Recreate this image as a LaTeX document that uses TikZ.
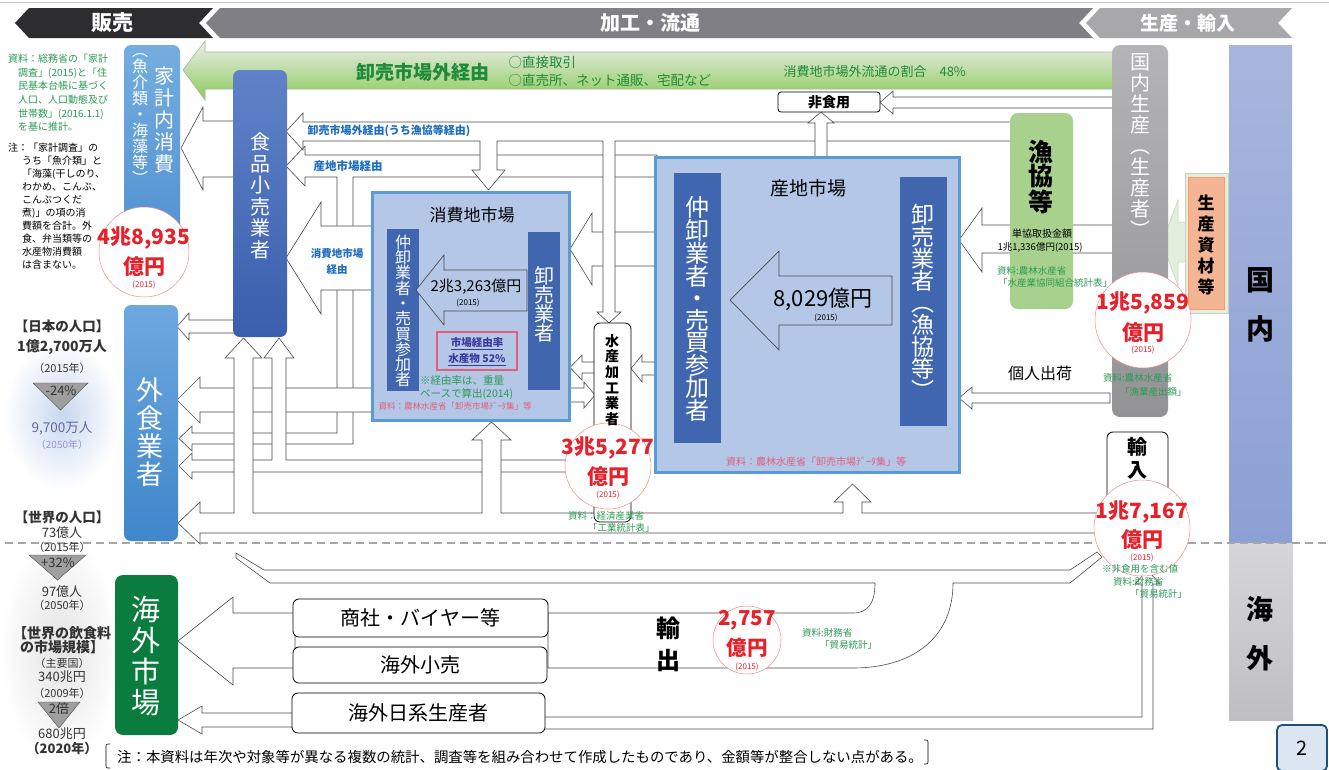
\documentclass[tikz,border=0pt]{standalone}
\usepackage{fontspec}
\setmainfont{Noto Sans CJK JP}
\usetikzlibrary{shapes.geometric}
\definecolor{bnDark}{HTML}{2D2D30}
\definecolor{bnMid}{HTML}{808084}
\definecolor{bnLight}{HTML}{A8A8AA}
\definecolor{agray}{HTML}{4A4A4A}
\definecolor{kakeiA}{HTML}{74AEE0}
\definecolor{kakeiB}{HTML}{4F8FD0}
\definecolor{shokuA}{HTML}{5F82C8}
\definecolor{shokuB}{HTML}{3B5EAD}
\definecolor{gaiA}{HTML}{6EA8E0}
\definecolor{gaiB}{HTML}{3F86CA}
\definecolor{kaigai}{HTML}{0A7D3E}
\definecolor{kokunaiA}{HTML}{B4B4B6}
\definecolor{kokunaiB}{HTML}{939395}
\definecolor{kokuA}{HTML}{A8B6DE}
\definecolor{kokuB}{HTML}{8CA0D4}
\definecolor{kaiA}{HTML}{D6D6D8}
\definecolor{kaiB}{HTML}{BFBFC1}
\definecolor{mkt}{HTML}{B4C7E7}
\definecolor{mktline}{HTML}{5B9BD5}
\definecolor{mbar}{HTML}{4066B0}
\definecolor{gyokyo}{HTML}{A9D18E}
\definecolor{shizaiO}{HTML}{F4B594}
\definecolor{shizaiL}{HTML}{E2EFDA}
\definecolor{redt}{HTML}{E8202A}
\definecolor{circline}{HTML}{F08A8A}
\definecolor{srcg}{HTML}{2B9A55}
\definecolor{titleg}{HTML}{1E8A3A}
\definecolor{blueL}{HTML}{1F6DBE}
\definecolor{pinkt}{HTML}{E0607A}
\definecolor{gtop}{HTML}{EDEDED}
\definecolor{gbot}{HTML}{8CCB5A}
\definecolor{gline}{HTML}{A0B890}
\definecolor{pgblue}{HTML}{1F4E79}
\definecolor{pgfill}{HTML}{DCE6F2}
\definecolor{dkt}{HTML}{333333}
\definecolor{purp}{HTML}{3B3B9E}
\definecolor{glowB}{HTML}{C8D8F0}
\newcommand\fs[2]{\fontsize{#1}{#2}\selectfont}
\tikzset{
  warrow/.style={fill=white, draw=agray, line width=0.6pt, line join=miter},
  iarrow/.style={fill=mkt, draw=agray, line width=0.7pt},
  vt/.style={align=center, inner sep=0pt},
  rbox/.style={draw=black, line width=0.8pt, fill=white, rounded corners=6pt, inner sep=0pt},
  rcirc/.style={circle, fill=white, draw=circline, line width=0.5pt, inner sep=0pt},
  src/.style={text=srcg, anchor=west, inner sep=0pt, font=\fs{9.5}{11}},
  redbig/.style={text=redt, inner sep=0pt, font=\fs{21}{23}\bfseries},
  redsmall/.style={text=redt, inner sep=0pt, font=\fs{8}{9}},
  mkbox/.style={fill=mkt, draw=mktline, line width=3pt, inner sep=0pt},
  barbox/.style={fill=mbar, inner sep=0pt},
  poptxt/.style={text=dkt, inner sep=0pt},
  tri/.style={fill=gray!75, draw=gray!60!black, line width=0.4pt}
}
\begin{document}
\begin{tikzpicture}[x=1pt,y=-1pt]
\useasboundingbox (0,0) rectangle (1329,769);
\fill[white] (0,0) rectangle (1329,769);
\draw[gray!45, line width=1pt] (0,2) -- (1329,2);

% ---------- banners
\fill[bnDark] (15,23) -- (29,8) -- (213,8) -- (199,23) -- (213,38) -- (29,38) -- cycle;
\fill[bnMid] (206,23) -- (220,8) -- (1093,8) -- (1079,23) -- (1093,38) -- (220,38) -- cycle;
\fill[bnLight] (1086,23) -- (1100,8) -- (1292,8) -- (1278,23) -- (1292,38) -- (1100,38) -- cycle;
\node[text=white, font=\fs{21}{23}\bfseries] (bHanbai) at (112,23) {販売};
\node[text=white, font=\fs{20}{22}\bfseries] (bKakou) at (650,23) {加工・流通};
\node[text=white, font=\fs{19}{21}\bfseries] (bSeisan) at (1188,23) {生産・輸入};

% ---------- glows
\shade[inner color=glowB, outer color=white] (62,415) ellipse (58 and 75);
\shade[inner color=gray!22, outer color=white] (60,650) ellipse (60 and 115);

% ---------- right bars
\shade[top color=kokuA, bottom color=kokuB] (1229,45) rectangle (1292,543);
\shade[top color=kaiA, bottom color=kaiB] (1229,543) rectangle (1293,720);
\node[font=\fs{28}{30}\bfseries] (tKoku1) at (1260,280) {国};
\node[font=\fs{28}{30}\bfseries] (tKoku2) at (1260,329) {内};
\node[font=\fs{27}{30}\bfseries] (tKai1) at (1260,609) {海};
\node[font=\fs{27}{30}\bfseries] (tKai2) at (1260,658) {外};
\node[draw=pgblue, line width=1.8pt, fill=pgfill, rounded corners=5pt, minimum width=50pt, minimum height=46pt] (pg) at (1302,748) {\fs{20}{22}2};

% ---------- green big arrow
\shadedraw[top color=gtop, bottom color=gbot, draw=gline, line width=0.6pt] (183,70) -- (205,41) -- (205,52) -- (1114,52) -- (1114,89) -- (205,89) -- (205,100) -- cycle;

% ---------- white block arrows
\draw[warrow] (1114,97) -- (893,97) -- (893,91) -- (880,102.5) -- (893,114) -- (893,108) -- (1114,108) -- cycle;
\draw[warrow] (657,232) -- (592,232) -- (592,213) -- (570,249) -- (592,285) -- (592,266) -- (657,266) -- cycle;
\draw[warrow] (657,155) -- (305,155) -- (305,146) -- (286,166) -- (305,186) -- (305,177) -- (337,177) -- (337,433) -- (192,433) -- (192,426) -- (179,438.5) -- (192,451) -- (192,444) -- (353,444) -- (353,177) -- (657,177) -- cycle;
\draw[warrow] (1012,122) -- (303,122) -- (303,113) -- (286,131.5) -- (303,150) -- (303,141) -- (480,141) -- (480,170) -- (472,170) -- (488.5,190) -- (505,170) -- (497,170) -- (497,141) -- (603,141) -- (603,312) -- (597,312) -- (609,323) -- (621,312) -- (615,312) -- (615,141) -- (1012,141) -- cycle;
\draw[warrow] (815,158) -- (815,123) -- (808,123) -- (821,112) -- (834,123) -- (827,123) -- (827,158) -- cycle;
\draw[warrow] (235,121) -- (203,121) -- (203,107) -- (181,148) -- (203,190) -- (203,177) -- (235,177) -- cycle;
\draw[warrow] (235,320) -- (189,320) -- (189,313) -- (177,326.5) -- (189,340) -- (189,333) -- (235,333) -- cycle;
\draw[warrow] (374,226) -- (321,226) -- (321,202) -- (286,258) -- (321,314) -- (321,290) -- (374,290) -- cycle;
\draw[warrow] (374,388) -- (200,388) -- (200,377) -- (177,400) -- (200,423) -- (200,412) -- (374,412) -- cycle;
\draw[warrow] (596,460) -- (286,460) -- (286,358) -- (294,358) -- (279,338) -- (264,358) -- (272,358) -- (272,460) -- (192,460) -- (192,453) -- (179,466) -- (192,479) -- (192,472) -- (596,472) -- cycle;
\draw[warrow] (1110,513) -- (862,513) -- (862,502) -- (871,502) -- (852.5,484) -- (834,502) -- (843,502) -- (843,513) -- (501,513) -- (501,440) -- (511,440) -- (491.5,422) -- (472,440) -- (482,440) -- (482,513) -- (253,513) -- (253,358) -- (262,358) -- (243.5,338) -- (225,358) -- (234,358) -- (234,513) -- (200,513) -- (200,502) -- (178,523) -- (200,544) -- (200,533) -- (1110,533) -- cycle;
\draw[warrow] (657,362) -- (642,362) -- (642,355) -- (631,368.5) -- (642,382) -- (642,375) -- (657,375) -- cycle;
\draw[warrow] (596,362) -- (582,362) -- (582,355) -- (570,367.5) -- (582,380) -- (582,373) -- (596,373) -- cycle;
\draw[warrow] (568,388) -- (584,388) -- (584,382) -- (595,395) -- (584,408) -- (584,402) -- (568,402) -- cycle;
\draw[warrow] (1114,225) -- (982,225) -- (982,208) -- (959,240) -- (982,272) -- (982,253) -- (1114,253) -- cycle;
\draw[warrow] (1110,393) -- (972,393) -- (972,387) -- (959,398) -- (972,409) -- (972,403) -- (1110,403) -- cycle;
% export area
\draw[warrow] (236,553) -- (264,570) -- (1070,570) -- (1097,552) -- (1102,557) -- (1070,583) -- (953,583) .. controls (953,640) and (910,668) .. (853,668) -- (548,668) -- (548,613) -- (853,613) .. controls (868,613) and (875,603) .. (875,583) -- (270,583) -- (236,558) -- cycle;
\draw[warrow] (295,613) -- (233,613) -- (233,597) -- (178,641) -- (233,685) -- (233,668) -- (295,668) -- cycle;
\draw[warrow] (294,713) -- (202,713) -- (202,706) -- (178,720) -- (202,734) -- (202,727) -- (294,727) -- cycle;
\draw[warrow] (543,717) -- (1142,717) -- (1142,584) -- (1135,584) -- (1147.5,570) -- (1160,584) -- (1153,584) -- (1153,729) -- (543,729) -- cycle;
% light green arrow from materials
\draw[fill=shizaiL, draw=shizaiL!70!gray, line width=0.5pt] (1190,222) -- (1178,222) -- (1178,200) -- (1162,243) -- (1178,286) -- (1178,262) -- (1190,262) -- cycle;

% ---------- boxes
\node[rounded corners=7pt, top color=kakeiA, bottom color=kakeiB, minimum width=56pt, minimum height=215pt, inner sep=0pt] (kakei) at (152,152.5) {};
\node[rounded corners=7pt, top color=shokuA, bottom color=shokuB, minimum width=54pt, minimum height=267pt, inner sep=0pt] (shoku) at (260,203.5) {};
\node[rounded corners=7pt, top color=gaiA, bottom color=gaiB, minimum width=54pt, minimum height=236pt, inner sep=0pt] (gai) at (151,423) {};
\node[rounded corners=8pt, fill=kaigai, minimum width=63pt, minimum height=160pt, inner sep=0pt] (kaigaiM) at (146.5,655) {};
\node[rounded corners=8pt, top color=kokunaiA, bottom color=kokunaiB, minimum width=56pt, minimum height=372pt, inner sep=0pt] (kokunai) at (1140,231) {};
\node[rounded corners=8pt, fill=gyokyo, draw=mktline!60, dotted, minimum width=63pt, minimum height=196pt, inner sep=0pt] (gyokyo) at (1041.5,211) {};
\node[rbox, minimum width=61pt, minimum height=78pt] (yunyu) at (1137.5,471) {};
\node[rbox, minimum width=37pt, minimum height=199pt] (suisan) at (612.5,422.5) {};
\node[rbox, rounded corners=3pt, minimum width=102pt, minimum height=20pt] (hishoku) at (829,102) {\fs{14}{15}\bfseries 非食用};
\node[fill=shizaiL, draw=gray!40, minimum width=43pt, minimum height=140pt, inner sep=0pt] (shizaiOut) at (1206.5,243) {};
\node[fill=shizaiO, draw=orange!70!red!60, line width=0.8pt, minimum width=36pt, minimum height=132pt, inner sep=0pt] (shizai) at (1206,243) {};
% markets
\node[mkbox, minimum width=304pt, minimum height=315pt] (sanchi) at (807,314.5) {};
\node[barbox, minimum width=47pt, minimum height=270pt] (sanNaka) at (697.5,308) {};
\node[barbox, minimum width=47pt, minimum height=249pt] (sanOroshi) at (923.5,301.5) {};
\draw[iarrow] (892,276) -- (779,276) -- (779,251) -- (730,300) -- (779,350) -- (779,325) -- (892,325) -- cycle;
\node[mkbox, minimum width=197pt, minimum height=228pt] (shohi) at (470.5,306) {};
\node[barbox, minimum width=32pt, minimum height=162pt] (shoNaka) at (403,310) {};
\node[barbox, minimum width=32pt, minimum height=158pt] (shoOroshi) at (544,311) {};
\draw[iarrow] (527,270) -- (444,270) -- (444,255) -- (416,290) -- (444,325) -- (444,311) -- (527,311) -- cycle;
\node[draw=pinkt, line width=1.2pt, fill=mkt, minimum width=80pt, minimum height=38pt, inner sep=0pt] (ratebox) at (477,351) {};
% export boxes
\node[rbox, minimum width=255pt, minimum height=38pt] (shosha) at (420.5,618) {\fs{20}{22}商社・バイヤー等};
\node[rbox, minimum width=254pt, minimum height=36pt] (kouri) at (420,665) {\fs{20}{22}海外小売};
\node[rbox, minimum width=253pt, minimum height=40pt] (nikkei) at (418.5,713) {\fs{20}{22}海外日系生産者};

% dashed border
\draw[gray!70, line width=1.3pt, dash pattern=on 8pt off 5pt] (5,543) -- (1329,543);

% ---------- circles
\node[rcirc, minimum size=90pt] (c1) at (144,252) {};
\node[rcirc, minimum size=86pt] (c2) at (608,466) {};
\node[rcirc, minimum size=96pt] (c3) at (1143,320) {};
\node[rcirc, minimum size=96pt] (c4) at (1142,528) {};
\node[rcirc, minimum size=68pt] (c5) at (747,640) {};
\node[redbig] (c1a) at (144,238) {4兆8,935};
\node[redbig] (c1b) at (144,267) {億円};
\node[redsmall] (c1c) at (144,285) {(2015)};
\node[redbig] (c2a) at (608,448) {3兆5,277};
\node[redbig] (c2b) at (608,477) {億円};
\node[redsmall] (c2c) at (608,495) {(2015)};
\node[redbig] (c3a) at (1143,303) {1兆5,859};
\node[redbig] (c3b) at (1143,333) {億円};
\node[redsmall] (c3c) at (1143,350) {(2015)};
\node[redbig] (c4a) at (1142,512) {1兆7,167};
\node[redbig] (c4b) at (1142,540) {億円};
\node[redsmall] (c4c) at (1142,558) {(2015)};
\node[redbig, font=\fs{20.5}{23}\bfseries] (c5a) at (747,620) {2,757};
\node[redbig, font=\fs{20.5}{23}\bfseries] (c5b) at (747,648) {億円};
\node[redsmall] (c5c) at (747,667) {(2015)};

% ---------- vertical labels
\node[vt, text=white, font=\fs{20}{22}] (tKakei) at (164,120) {家\\計\\内\\消\\費};
\node[vt, text=white, font=\fs{16}{16}] (tKakei2) at (140,119) {︵\\魚\\介\\類\\・\\海\\藻\\等\\︶};
\node[vt, text=white, font=\fs{20}{21.5}] (tShoku) at (260,196) {食\\品\\小\\売\\業\\者};
\node[vt, text=white, font=\fs{27}{28}] (tGai) at (150,432) {外\\食\\業\\者};
\node[vt, text=white, font=\fs{29}{31}] (tKaigai) at (146,656) {海\\外\\市\\場};
\node[vt, text=white, font=\fs{20}{21}] (tKokunai) at (1140,146) {国\\内\\生\\産\\︵\\生\\産\\者\\︶};
\node[vt, font=\fs{17}{21}\bfseries] (tShizai) at (1206,245) {生\\産\\資\\材\\等};
\node[vt, font=\fs{25}{24}\bfseries] (tGyokyo) at (1041,177) {漁\\協\\等};
\node[vt, text=white, font=\fs{24}{22}] (tSanNaka) at (697,309) {仲\\卸\\業\\者\\・\\売\\買\\参\\加\\者};
\node[vt, text=white, font=\fs{23}{22}] (tSanOro) at (923,302) {卸\\売\\業\\者\\︵\\漁\\協\\等\\︶};
\node[vt, text=white, font=\fs{16}{15.3}] (tShoNaka) at (403,311) {仲\\卸\\業\\者\\・\\売\\買\\参\\加\\者};
\node[vt, text=white, font=\fs{20}{19}] (tShoOro) at (544,304) {卸\\売\\業\\者};
\node[vt, font=\fs{14}{15.6}\bfseries] (tSuisan) at (612,380) {水\\産\\加\\工\\業\\者};
\node[vt, font=\fs{20}{23}\bfseries] (tYunyu) at (1137,458) {輸\\入};
\node[vt, font=\fs{24}{32}\bfseries] (tYushutsu) at (668,644) {輸\\出};

% ---------- market texts
\node[font=\fs{19}{21}] (tSanchi) at (808,188) {産地市場};
\node[font=\fs{17}{19}] (tShohi) at (472,215) {消費地市場};
\node[font=\fs{22}{24}] (t8029) at (823,299) {8,029億円};
\node[font=\fs{8}{9}] (t8029y) at (826,318) {(2015)};
\node[font=\fs{15}{17}] (t23263) at (476,287) {2兆3,263億円};
\node[font=\fs{8}{9}] (t23263y) at (468,303) {(2015)};
\node[text=purp, font=\fs{10.5}{12}\bfseries] (tRate1) at (477,344) {\underline{市場経由率}};
\node[text=purp, font=\fs{10.5}{12}\bfseries] (tRate2) at (477,360) {\underline{水産物 52\%}};
\node[src, font=\fs{10.5}{12}] (tKeiyu1) at (420,381) {※経由率は、重量};
\node[src, font=\fs{10.5}{12}] (tKeiyu2) at (420,394) {ベースで算出(2014)};
\node[text=pinkt, anchor=west, font=\fs{8.5}{10}] (tSrcShohi) at (375,406) {資料：農林水産省「卸売市場ﾃﾞｰﾀ集」等};
\node[text=pinkt, font=\fs{10}{12}] (tSrcSanchi) at (816,462) {資料：農林水産省「卸売市場ﾃﾞｰﾀ集」等};

% ---------- flow labels
\node[text=titleg, font=\fs{19}{21}\bfseries] (tOut) at (423,72) {卸売市場外経由};
\node[text=titleg, anchor=west, font=\fs{13.5}{15}] (tOut1) at (505,62) {○直接取引};
\node[text=titleg, anchor=west, font=\fs{13.5}{15}] (tOut2) at (505,80) {○直売所、ネット通販、宅配など};
\node[text=titleg, anchor=west, font=\fs{13}{15}] (tOut3) at (780,72) {消費地市場外流通の割合　48\%};
\node[text=blueL, anchor=west, font=\fs{11}{13}\bfseries] (tB1) at (304,131) {卸売市場外経由(うち漁協等経由)};
\node[text=blueL, anchor=west, font=\fs{11.5}{13}\bfseries] (tB2) at (310,166) {産地市場経由};
\node[vt, text=blueL, font=\fs{10.5}{16}\bfseries] (tB3) at (337,261) {消費地市場\\経由};
\node[font=\fs{16}{18}] (tKojin) at (1040,373) {個人出荷};
\node[font=\fs{10}{12}] (tTankyo1) at (1042,234) {単協取扱金額};
\node[font=\fs{9.5}{11}] (tTankyo2) at (1040,247) {1兆1,336億円(2015)};
\node[src] (sG1) at (997,271) {資料:農林水産省};
\node[src] (sG2) at (998,283) {「水産業協同組合統計表」};
\node[src] (sC3a) at (1103,378) {資料:農林水産省};
\node[src] (sC3b) at (1120,392) {「漁業産出額」};
\node[src] (sC4a) at (1102,569) {※非食用を含む値};
\node[src] (sC4b) at (1113,582) {資料:財務省};
\node[src] (sC4c) at (1130,594) {「貿易統計」};
\node[src] (sC2a) at (568,516) {資料：経済産業省};
\node[src] (sC2b) at (588,528) {「工業統計表」};
\node[src] (sC5a) at (802,633) {資料:財務省};
\node[src] (sC5b) at (820,645) {「貿易統計」};

% ---------- left notes
\node[text=srcg, anchor=north west, align=left, inner sep=0pt, font=\fs{10}{13.6}] (noteSrc) at (8,54) {資料：総務省の「家計\\\hspace*{10pt}調査」(2015)と「住\\\hspace*{10pt}民基本台帳に基づく\\\hspace*{10pt}人口、人口動態及び\\\hspace*{10pt}世帯数」(2016.1.1)\\\hspace*{10pt}を基に推計。};
\node[text=black, anchor=north west, align=left, inner sep=0pt, font=\fs{10}{13}] (noteChu) at (8,143) {注：「家計調査」の\\\hspace*{14pt}うち「魚介類」と\\\hspace*{14pt}「海藻(干しのり、\\\hspace*{14pt}わかめ、こんぶ、\\\hspace*{14pt}こんぶつくだ\\\hspace*{14pt}煮)」の項の消\\\hspace*{14pt}費額を合計。外\\\hspace*{14pt}食、弁当類等の\\\hspace*{14pt}水産物消費額\\\hspace*{14pt}は含まない。};

% ---------- population
\fill[tri] (33,383) -- (88,383) -- (60.5,410) -- cycle;
\fill[tri] (29,555) -- (86,555) -- (57.5,580) -- cycle;
\fill[tri] (38,702) -- (80,702) -- (59,728) -- cycle;
\node[poptxt, font=\fs{13.5}{15}\bfseries] (p1) at (62,326) {【日本の人口】};
\node[poptxt, font=\fs{14}{15}\bfseries] (p2) at (62,347) {1億2,700万人};
\node[poptxt, font=\fs{11}{13}] (p3) at (62,368) {（2015年）};
\node[poptxt, font=\fs{13}{14}] (p4) at (61,391) {-24\%};
\node[poptxt, text=gray!80!blue, font=\fs{13.5}{15}] (p5) at (62,428) {9,700万人};
\node[poptxt, text=gray!60!blue!60, font=\fs{10}{12}] (p6) at (62,445) {（2050年）};
\node[poptxt, font=\fs{13.5}{15}\bfseries] (w1) at (62,517) {【世界の人口】};
\node[poptxt, font=\fs{13}{15}] (w2) at (62,533) {73億人};
\node[poptxt, font=\fs{11}{13}] (w3) at (62,547) {（2015年）};
\node[poptxt, font=\fs{13}{14}] (w4) at (58,563) {+32\%};
\node[poptxt, font=\fs{13}{15}] (w5) at (62,592) {97億人};
\node[poptxt, font=\fs{11}{13}] (w6) at (62,605) {（2050年）};
\node[poptxt, font=\fs{14}{15}\bfseries] (m1) at (62,633) {【世界の飲食料};
\node[poptxt, font=\fs{14}{15}\bfseries] (m2) at (62,647) {の市場規模】};
\node[poptxt, font=\fs{11}{13}] (m3) at (62,663) {（主要国）};
\node[poptxt, font=\fs{13}{15}] (m4) at (62,677) {340兆円};
\node[poptxt, font=\fs{11}{13}] (m5) at (62,693) {（2009年）};
\node[poptxt, font=\fs{13}{14}] (m6) at (59,709) {2倍};
\node[poptxt, font=\fs{13}{15}] (m7) at (62,734) {680兆円};
\node[poptxt, font=\fs{13}{15}\bfseries] (m8) at (62,749) {（2020年）};

% ---------- bottom note
\node[anchor=west, inner sep=0pt, font=\fs{14.4}{16}] (bottomNote) at (117,757) {注：本資料は年次や対象等が異なる複数の統計、調査等を組み合わせて作成したものであり、金額等が整合しない点がある。};
\draw[line width=0.6pt] (110,744) .. controls (106,744) .. (106,748) -- (106,764) .. controls (106,768) .. (110,768);
\draw[line width=0.6pt] (924,740) .. controls (928,740) .. (928,744) -- (928,760) .. controls (928,764) .. (924,764);
\end{tikzpicture}
\end{document}
